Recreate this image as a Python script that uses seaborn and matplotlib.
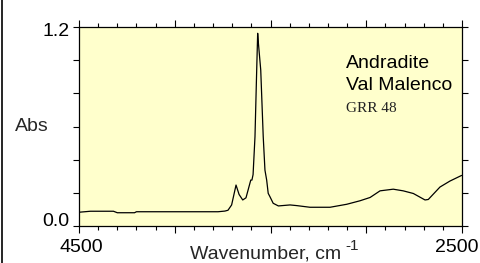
import matplotlib
matplotlib.use("Agg")
import matplotlib.pyplot as plt
import matplotlib.transforms as mtransforms
import seaborn as sns
import pandas as pd
from matplotlib.lines import Line2D
from matplotlib.ticker import MultipleLocator, FixedLocator, FixedFormatter

sns.set_theme(style="white")
plt.rcParams['font.family'] = ['Liberation Sans', 'DejaVu Sans']

# Data
wavenumber = [4500, 4440, 4320, 4300, 4210, 4200, 3774, 3738, 3722, 3703, 3680,
              3664, 3645, 3628, 3617, 3603, 3597, 3591, 3581, 3573, 3567, 3563,
              3551, 3538, 3529, 3520, 3512, 3503, 3486, 3459, 3398, 3363, 3294,
              3189, 3102, 3033, 2980, 2928, 2859, 2807, 2754, 2693, 2676, 2615,
              2563, 2502]
absorbance = [0.083, 0.089, 0.089, 0.080, 0.080, 0.086, 0.086, 0.090, 0.095, 0.127, 0.247,
              0.190, 0.157, 0.170, 0.217, 0.277, 0.277, 0.310, 0.539, 0.900, 1.162, 1.100,
              0.941, 0.539, 0.337, 0.277, 0.197, 0.177, 0.137, 0.121, 0.127, 0.123, 0.113,
              0.113, 0.131, 0.152, 0.172, 0.212, 0.222, 0.212, 0.196, 0.157, 0.160, 0.235,
              0.271, 0.305]
x_tick_labels = ["4500", "", "", "", "2500"]
y_tick_labels = ["0.0", "", "", "", "", "", "1.2"]
annotation_lines = ["Andradite", "Val Malenco"]
sample_id = "GRR 48"

df = pd.DataFrame({"wn": wavenumber, "abs": absorbance})

fig = plt.figure(figsize=(4.81, 2.63), dpi=100)
fig.patch.set_facecolor("white")
ax = fig.add_axes([79/481, 37/263, 383/481, 199/263])
ax.set_facecolor("#FFFFCC")

sns.lineplot(data=df, x="wn", y="abs", ax=ax, color="black", linewidth=0.9, sort=False)

ax.set_xlim(4500, 2500)
ax.set_ylim(0.0, 1.2)

ax.xaxis.set_major_locator(FixedLocator([4500, 4000, 3500, 3000, 2500]))
ax.xaxis.set_major_formatter(FixedFormatter(x_tick_labels))
ax.xaxis.set_minor_locator(MultipleLocator(100))
ax.yaxis.set_major_locator(FixedLocator([0.0, 0.2, 0.4, 0.6, 0.8, 1.0, 1.2]))
ax.yaxis.set_major_formatter(FixedFormatter(y_tick_labels))

ax.tick_params(axis="both", which="both", direction="out", colors="black",
               top=True, right=True, bottom=True, left=True, width=0.8)
ax.tick_params(axis="both", which="major", length=4, labelsize=14, pad=3)
ax.tick_params(axis="x", which="minor", length=3)
ax.tick_params(axis="x", which="major", length=5, pad=4)

for s in ax.spines.values():
    s.set_visible(True)
    s.set_color("black")
    s.set_linewidth(0.9)

# nudge end tick labels as in the reference
def shift(lbl, dx, dy):
    off = mtransforms.ScaledTranslation(dx/100, dy/100, fig.dpi_scale_trans)
    lbl.set_transform(lbl.get_transform() + off)

xl = ax.get_xticklabels()
shift(xl[-1], -5, 0)
shift(xl[0], 2, 0)
yl = ax.get_yticklabels()
shift(yl[0], 0, 6)
shift(yl[-1], 0, -3)

ax.set_xlabel("Wavenumber, cm", fontsize=14, va="baseline", ha="left")
ax.xaxis.set_label_coords((190-79)/383, -0.161)
ax.annotate("-1", xy=(1, 1), xycoords=ax.xaxis.label, xytext=(3, 4),
            textcoords="offset points", fontsize=11, va="top", ha="left")
ax.set_ylabel("Abs", fontsize=14, rotation=0, ha="left", va="center")
ax.yaxis.set_label_coords(-0.167, 0.5)

ax.text(0.697, 0.794, annotation_lines[0], transform=ax.transAxes, fontsize=14,
        va="baseline", ha="left", color="black")
ax.text(0.697, 0.683, annotation_lines[1], transform=ax.transAxes, fontsize=14,
        va="baseline", ha="left", color="black")
ax.text(0.697, 0.573, sample_id, transform=ax.transAxes, fontsize=11,
        va="baseline", ha="left", color="#222222", family=["Liberation Serif", "DejaVu Serif"])

fig.add_artist(Line2D([1.5/481, 1.5/481], [0, 1], transform=fig.transFigure,
                      color="black", linewidth=1.2))

fig.savefig("out.png", dpi=100)
